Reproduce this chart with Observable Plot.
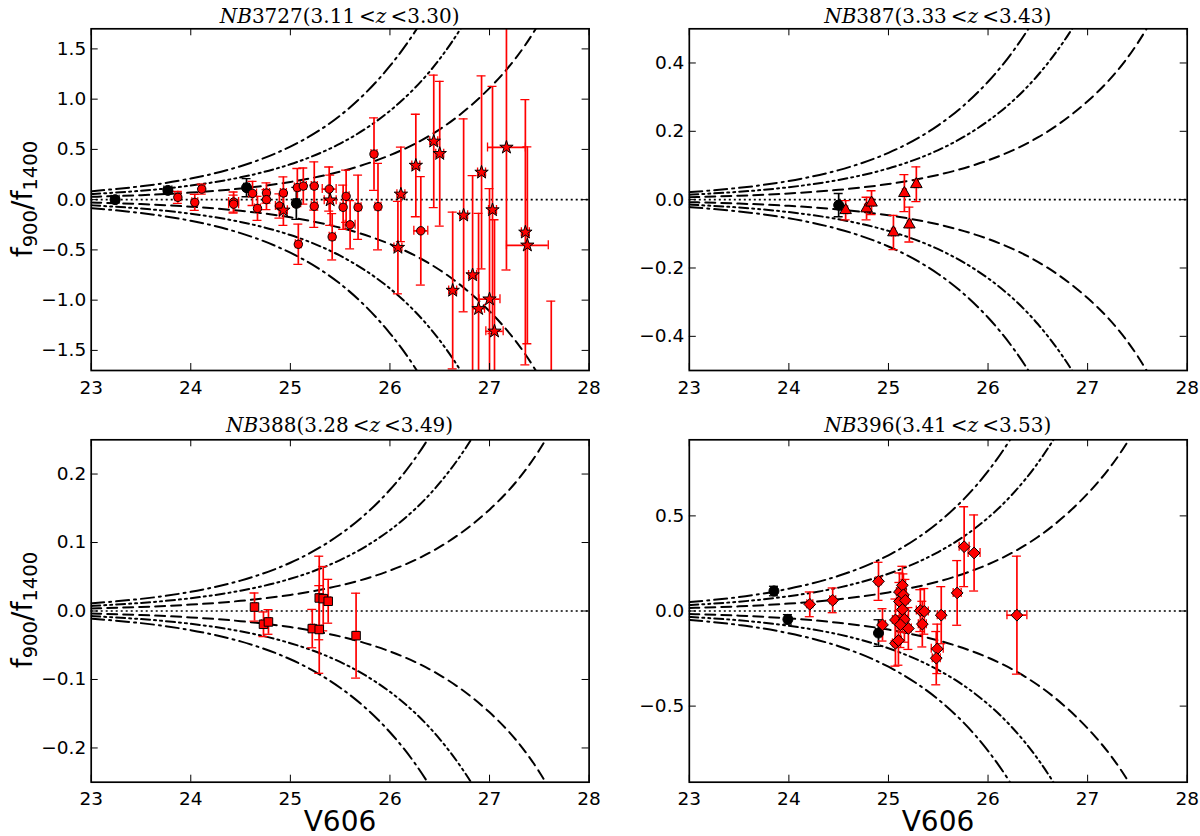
<!DOCTYPE html>
<html><head><meta charset="utf-8">
<script src="https://cdn.jsdelivr.net/npm/d3@7"></script>
<script src="https://cdn.jsdelivr.net/npm/@observablehq/plot@0.6"></script>
<style>
body{margin:0;background:#fff;}
#fig{position:relative;width:1200px;height:836px;overflow:hidden;background:#fff;font-family:"DejaVu Sans",sans-serif;color:#000;}
.ttl{position:absolute;font-family:"DejaVu Serif",serif;font-size:20px;white-space:nowrap;transform:translate(-50%,-50%);}
.ylab{position:absolute;font-size:28px;white-space:nowrap;transform:translate(-50%,-50%) rotate(-90deg);}
.ylab sub{font-size:70%;vertical-align:-0.25em;}
.xlab{position:absolute;font-size:28px;white-space:nowrap;transform:translate(-50%,-50%);}
</style></head><body><div id="fig"></div><script>
// ---- shared grid and ticks ----
const magGrid = [23, 23.5, 24, 24.5, 25, 25.5, 26, 26.5, 27, 27.5, 28];
const xTicks = [23, 24, 25, 26, 27, 28];

// ---- NB3727 panel ----
const nb3727_s1 = [0.0279, 0.0442, 0.070, 0.111, 0.176, 0.279, 0.442, 0.70, 1.11, 1.76, 2.79];
const nb3727_s2 = [0.0558, 0.0884, 0.140, 0.222, 0.352, 0.558, 0.884, 1.40, 2.22, 3.52, 5.58];
const nb3727_s3 = [0.0837, 0.133, 0.210, 0.333, 0.528, 0.837, 1.33, 2.10, 3.33, 5.28, 8.37];
const nb3727_yTicks = [-1.5, -1.0, -0.5, 0, 0.5, 1.0, 1.5];
const nb3727_ref_mag = [23.24, 23.77, 24.56, 25.06];
const nb3727_ref_f = [0.0, 0.092, 0.119, -0.037];
const nb3727_ref_err = [0.03, 0.025, 0.09, 0.16];
const nb3727_ref_xerr = [0.04, 0.04, 0.03, 0.03];
const nb3727_circ_mag = [23.87,24.04,24.11,24.43,24.43,24.62,24.67,24.76,24.76,24.89,24.93,25.07,25.08,25.13,25.24,25.24,25.39,25.42,25.53,25.56,25.60,25.68,25.84,25.88,26.31];
const nb3727_circ_f = [0.023,-0.027,0.105,-0.024,-0.045,0.062,-0.087,0.066,0.0,-0.063,0.066,0.12,-0.444,0.135,0.135,-0.066,0.105,-0.37,-0.076,0.033,-0.25,-0.076,0.453,-0.07,-0.31];
const nb3727_circ_err = [0.06,0.08,0.05,0.10,0.09,0.12,0.12,0.10,0.10,0.12,0.16,0.19,0.20,0.18,0.24,0.21,0.22,0.23,0.22,0.26,0.24,0.32,0.36,0.43,0.54];
const nb3727_circ_xerr = [0.03,0.03,0.03,0.05,0.05,0.04,0.03,0.03,0.03,0.04,0.03,0.03,0.03,0.03,0.03,0.03,0.07,0.03,0.03,0.03,0.05,0.03,0.03,0.03,0.07];
const nb3727_star_mag = [24.93,25.40,26.08,26.11,26.26,26.44,26.50,26.63,26.74,26.83,26.89,26.92,27.00,27.03,27.05,27.17,27.36,27.38,27.62];
const nb3727_star_f = [-0.106,-0.005,-0.477,0.053,0.34,0.58,0.457,-0.904,-0.156,-0.75,-1.086,0.271,-0.99,-0.103,-1.31,0.52,-0.325,-0.454,-2.05];
const nb3727_star_err = [0.15,0.25,0.46,0.47,0.51,0.66,0.72,0.78,0.96,0.99,0.95,0.96,1.10,1.23,1.11,1.22,1.32,0.98,1.04];
const nb3727_star_xerr = [0.04,0.06,0.04,0.04,0.04,0.04,0.04,0.04,0.04,0.04,0.06,0.04,0.105,0.04,0.087,0.19,0.04,0.21,0.0];

// ---- NB387 panel ----
const nb387_s1 = [0.00725, 0.0115, 0.0182, 0.0288, 0.0457, 0.0725, 0.115, 0.182, 0.288, 0.457, 0.724];
const nb387_s2 = [0.0145, 0.023, 0.0364, 0.0576, 0.0914, 0.145, 0.23, 0.364, 0.576, 0.914, 1.448];
const nb387_s3 = [0.0218, 0.0345, 0.0546, 0.0864, 0.137, 0.2175, 0.345, 0.546, 0.864, 1.371, 2.172];
const nb387_yTicks = [-0.4, -0.2, 0, 0.2, 0.4];
const nb387_ref_mag = [24.50];
const nb387_ref_f = [-0.016];
const nb387_ref_err = [0.034];
const nb387_ref_xerr = [0.02];
const nb387_tri_mag = [24.57,24.78,24.83,25.05,25.16,25.21,25.28];
const nb387_tri_f = [-0.031,-0.026,-0.009,-0.096,0.019,-0.073,0.045];
const nb387_tri_err = [0.028,0.033,0.035,0.05,0.054,0.051,0.051];
const nb387_tri_xerr = [0.02,0.02,0.02,0.02,0.02,0.02,0.02];

// ---- NB388 panel ----
const nb388_s1 = [0.00372, 0.0059, 0.00935, 0.0148, 0.0235, 0.0372, 0.059, 0.0935, 0.148, 0.235, 0.372];
const nb388_s2 = [0.00744, 0.0118, 0.0187, 0.0296, 0.047, 0.0744, 0.118, 0.187, 0.296, 0.47, 0.744];
const nb388_s3 = [0.0112, 0.0177, 0.028, 0.0444, 0.0705, 0.112, 0.177, 0.28, 0.444, 0.705, 1.116];
const nb388_yTicks = [-0.2, -0.1, 0, 0.1, 0.2];
const nb388_sq_mag = [24.64,24.73,24.78,25.22,25.29,25.29,25.33,25.38,25.66];
const nb388_sq_f = [0.0058,-0.0194,-0.016,-0.0257,0.019,-0.027,0.018,0.0142,-0.036];
const nb388_sq_err = [0.0205,0.018,0.018,0.028,0.061,0.064,0.047,0.032,0.062];
const nb388_sq_xerr = [0.02,0.02,0.02,0.02,0.02,0.02,0.02,0.02,0.02];

// ---- NB396 panel ----
const nb396_s1 = [0.0155, 0.0245, 0.0389, 0.0617, 0.0978, 0.155, 0.245, 0.389, 0.617, 0.978, 1.55];
const nb396_s2 = [0.031, 0.049, 0.0778, 0.123, 0.196, 0.31, 0.49, 0.778, 1.234, 1.956, 3.1];
const nb396_s3 = [0.0465, 0.0735, 0.117, 0.185, 0.293, 0.465, 0.735, 1.167, 1.851, 2.934, 4.65];
const nb396_yTicks = [-0.5, 0, 0.5];
const nb396_ref_mag = [23.85, 23.99, 24.90];
const nb396_ref_f = [0.105, -0.044, -0.116];
const nb396_ref_err = [0.025, 0.025, 0.07];
const nb396_ref_xerr = [0.03, 0.03, 0.03];
const nb396_dia_mag = [24.21,24.44,24.90,24.94,25.07,25.07,25.10,25.11,25.11,25.14,25.15,25.17,25.14,25.16,25.12,25.20,25.32,25.36,25.34,25.53,25.49,25.48,25.69,25.76,25.86,26.29];
const nb396_dia_f = [0.035,0.056,0.156,-0.073,-0.047,-0.170,-0.155,0.100,0.050,0.135,0.085,0.056,0.008,-0.044,-0.072,-0.092,0.002,-0.002,-0.069,-0.022,-0.199,-0.248,0.095,0.338,0.305,-0.022];
const nb396_dia_err = [0.065,0.065,0.10,0.085,0.11,0.12,0.13,0.10,0.10,0.10,0.11,0.11,0.12,0.12,0.12,0.11,0.11,0.12,0.12,0.15,0.13,0.14,0.17,0.21,0.20,0.31];
const nb396_dia_xerr = [0.03,0.03,0.03,0.03,0.03,0.03,0.03,0.03,0.03,0.03,0.03,0.03,0.03,0.03,0.03,0.03,0.04,0.04,0.04,0.04,0.06,0.04,0.04,0.05,0.06,0.10];

// ---- helpers ----
function rows(mag, f, err, xerr) {
  return mag.map((m, i) => ({m, v: f[i], e: err[i], xe: xerr[i]}));
}

function errorMarks(data, color, wMain, wCap) {
  const cap = 4.5;
  return [
    Plot.ruleX(data, {x: "m", y1: d => d.v - d.e, y2: d => d.v + d.e, stroke: color, strokeWidth: wMain, clip: true}),
    Plot.ruleY(data, {y: d => d.v + d.e, x1: "m", x2: "m", insetLeft: -cap, insetRight: -cap, stroke: color, strokeWidth: wCap, clip: true}),
    Plot.ruleY(data, {y: d => d.v - d.e, x1: "m", x2: "m", insetLeft: -cap, insetRight: -cap, stroke: color, strokeWidth: wCap, clip: true}),
    Plot.ruleY(data.filter(d => d.xe > 0), {y: "v", x1: d => d.m - d.xe, x2: d => d.m + d.xe, stroke: color, strokeWidth: wMain, clip: true}),
    Plot.ruleX(data.filter(d => d.xe > 0), {x: d => d.m - d.xe, y1: "v", y2: "v", insetTop: -cap, insetBottom: -cap, stroke: color, strokeWidth: wCap, clip: true}),
    Plot.ruleX(data.filter(d => d.xe > 0), {x: d => d.m + d.xe, y1: "v", y2: "v", insetTop: -cap, insetBottom: -cap, stroke: color, strokeWidth: wCap, clip: true})
  ];
}

const fig = document.getElementById("fig");

function makePanel(cfg) {
  const {left, top, width, height, ml, mr, mt, mb, yDomain, yTicks, s1, s2, s3, groups} = cfg;
  const fw = width - ml - mr, fh = height - mt - mb;
  const marks = [];
  const styles = [[s1, "10,6"], [s2, "9,4,2,4,2,4"], [s3, "13,5,2,5"]];
  for (const [vals, dash] of styles) {
    const rs = vals.map((v, i) => ({m: magGrid[i], v}));
    marks.push(Plot.line(rs, {x: "m", y: "v", curve: "natural", stroke: "black", strokeWidth: 2, strokeDasharray: dash, clip: true}));
    marks.push(Plot.line(rs, {x: "m", y: d => -d.v, curve: "natural", stroke: "black", strokeWidth: 2, strokeDasharray: dash, clip: true}));
  }
  marks.push(Plot.ruleY([0], {stroke: "black", strokeWidth: 1.6, strokeDasharray: "2,3"}));
  for (const g of groups) marks.push(...errorMarks(g.data, g.err, 1.7, 1.3));
  for (const g of groups) {
    marks.push(Plot.dot(g.data, {x: "m", y: "v", symbol: g.symbol, r: g.r, fill: g.fill, stroke: "black", strokeWidth: 1, clip: true}));
  }
  // inward ticks on all four sides
  marks.push(Plot.ruleX(xTicks, {x: d => d, insetTop: fh - 7, stroke: "black", strokeWidth: 1}));
  marks.push(Plot.ruleX(xTicks, {x: d => d, insetBottom: fh - 7, stroke: "black", strokeWidth: 1}));
  marks.push(Plot.ruleY(yTicks, {y: d => d, insetRight: fw - 7, stroke: "black", strokeWidth: 1}));
  marks.push(Plot.ruleY(yTicks, {y: d => d, insetLeft: fw - 7, stroke: "black", strokeWidth: 1}));
  marks.push(Plot.axisX({ticks: xTicks, tickSize: 0, tickPadding: 10, tickFormat: d3.format("d"), fontSize: 18.5, label: null}));
  marks.push(Plot.axisY({ticks: yTicks, tickSize: 0, tickPadding: 5, tickFormat: d3.format(".1f"), fontSize: 18.5, label: null}));
  marks.push(Plot.frame({stroke: "black", strokeWidth: 1.7}));
  const svg = Plot.plot({
    width, height, marginLeft: ml, marginRight: mr, marginTop: mt, marginBottom: mb,
    x: {domain: [23, 28]},
    y: {domain: yDomain},
    style: {fontFamily: "DejaVu Sans, sans-serif", fontSize: "18px", color: "black", background: "transparent", overflow: "visible"},
    marks
  });
  svg.style.position = "absolute";
  svg.style.left = left + "px";
  svg.style.top = top + "px";
  fig.appendChild(svg);
}

const topCfg = {top: 0, height: 400, mt: 28.3, mb: 30};
const botCfg = {top: 400, height: 436, mt: 39.3, mb: 54.3};
const leftCfg = {left: 0, width: 600, ml: 90.7, mr: 11.4};
const rightCfg = {left: 600, width: 600, ml: 88.8, mr: 13.3};

makePanel({...topCfg, ...leftCfg, yDomain: [-1.7, 1.7], yTicks: nb3727_yTicks,
  s1: nb3727_s1, s2: nb3727_s2, s3: nb3727_s3,
  groups: [
    {data: rows(nb3727_ref_mag, nb3727_ref_f, nb3727_ref_err, nb3727_ref_xerr), symbol: "circle", r: 5, fill: "black", err: "black"},
    {data: rows(nb3727_circ_mag, nb3727_circ_f, nb3727_circ_err, nb3727_circ_xerr), symbol: "circle", r: 4.2, fill: "red", err: "red"},
    {data: rows(nb3727_star_mag, nb3727_star_f, nb3727_star_err, nb3727_star_xerr), symbol: "star", r: 4.2, fill: "red", err: "red"}
  ]});

makePanel({...topCfg, ...rightCfg, yDomain: [-0.5, 0.5], yTicks: nb387_yTicks,
  s1: nb387_s1, s2: nb387_s2, s3: nb387_s3,
  groups: [
    {data: rows(nb387_ref_mag, nb387_ref_f, nb387_ref_err, nb387_ref_xerr), symbol: "circle", r: 5, fill: "black", err: "black"},
    {data: rows(nb387_tri_mag, nb387_tri_f, nb387_tri_err, nb387_tri_xerr), symbol: "triangle", r: 4.3, fill: "red", err: "red"}
  ]});

makePanel({...botCfg, ...leftCfg, yDomain: [-0.25, 0.25], yTicks: nb388_yTicks,
  s1: nb388_s1, s2: nb388_s2, s3: nb388_s3,
  groups: [
    {data: rows(nb388_sq_mag, nb388_sq_f, nb388_sq_err, nb388_sq_xerr), symbol: "square", r: 4.8, fill: "red", err: "red"}
  ]});

makePanel({...botCfg, ...rightCfg, yDomain: [-0.9, 0.9], yTicks: nb396_yTicks,
  s1: nb396_s1, s2: nb396_s2, s3: nb396_s3,
  groups: [
    {data: rows(nb396_ref_mag, nb396_ref_f, nb396_ref_err, nb396_ref_xerr), symbol: "circle", r: 5, fill: "black", err: "black"},
    {data: rows(nb396_dia_mag, nb396_dia_f, nb396_dia_err, nb396_dia_xerr), symbol: "diamond2", r: 5.3, fill: "red", err: "red"}
  ]});

// ---- titles and axis labels ----
function addText(cls, html, x, y) {
  const d = document.createElement("div");
  d.className = cls;
  d.innerHTML = html;
  d.style.left = x + "px";
  d.style.top = y + "px";
  fig.appendChild(d);
}
const lt = "\u2009&lt;";
addText("ttl", "<i>NB</i>3727(3.11" + lt + "<i>z</i>" + lt + "3.30)", 339.6, 16);
addText("ttl", "<i>NB</i>387(3.33" + lt + "<i>z</i>" + lt + "3.43)", 937.7, 16);
addText("ttl", "<i>NB</i>388(3.28" + lt + "<i>z</i>" + lt + "3.49)", 339.6, 425);
addText("ttl", "<i>NB</i>396(3.41" + lt + "<i>z</i>" + lt + "3.53)", 937.7, 425);
addText("ylab", "f<sub>900</sub>/f<sub>1400</sub>", 24, 199);
addText("ylab", "f<sub>900</sub>/f<sub>1400</sub>", 24, 610);
addText("xlab", "V606", 340, 821);
addText("xlab", "V606", 938, 821);
</script></body></html>
